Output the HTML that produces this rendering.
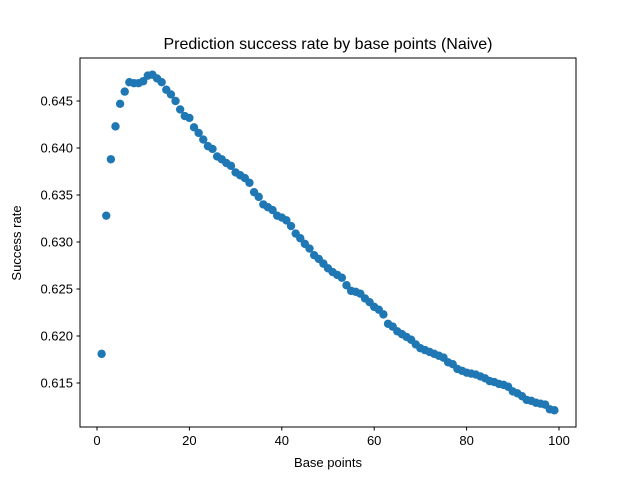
<!DOCTYPE html>
<html><head><meta charset="utf-8"><style>
body{margin:0;background:#fff;}
svg{display:block;font-family:"Liberation Sans","DejaVu Sans",sans-serif;}
</style></head><body>
<svg id="chart" width="640" height="480">
<rect width="640" height="480" fill="#fff"/>
<text x="328" y="49" font-size="16" text-anchor="middle">Prediction success rate by base points (Naive)</text>
<g id="ticks"></g>
<g id="points"></g>
<rect x="80" y="58" width="496" height="369" fill="none" stroke="#000" stroke-width="1"/>
<text x="328" y="467" font-size="13" text-anchor="middle">Base points</text>
<text x="21" y="243" font-size="13" text-anchor="middle" transform="rotate(-90 21 243)">Success rate</text>
</svg>
<script>
const basePoints = Array.from({length:99},(_,i)=>i+1);
const successRate = [0.6181,0.6328,0.6388,0.6423,0.6447,0.6460,0.6470,0.6469,0.6469,0.6471,
0.6477,0.6478,0.6474,0.6470,0.6462,0.6457,0.6450,0.6441,0.6434,0.6432,
0.6422,0.6416,0.6409,0.6402,0.6399,0.6391,0.6388,0.6384,0.6381,0.6374,
0.6371,0.6368,0.6363,0.6353,0.6348,0.6340,0.6337,0.6334,0.6328,0.6326,
0.6323,0.6317,0.6309,0.6304,0.6298,0.6293,0.6286,0.6282,0.6277,0.6272,
0.6268,0.6265,0.6262,0.6254,0.6248,0.6247,0.6245,0.6240,0.6236,0.6231,
0.6228,0.6223,0.6213,0.6210,0.6205,0.6202,0.6199,0.6196,0.6191,0.6187,
0.6185,0.6183,0.6181,0.6179,0.6177,0.6172,0.6170,0.6165,0.6163,0.6161,
0.6160,0.6159,0.6157,0.6155,0.6152,0.6151,0.6149,0.6148,0.6146,0.6141,
0.6139,0.6136,0.6132,0.6131,0.6129,0.6128,0.6127,0.6122,0.6121];
const xTicks = [0,20,40,60,80,100];
const yTicks = [0.615,0.620,0.625,0.630,0.635,0.640,0.645];
const yTickLabels = ["0.615","0.620","0.625","0.630","0.635","0.640","0.645"];

const NS="http://www.w3.org/2000/svg";
function xScale(v){return 97+v*4.62;}
function yScale(v){return 101+(0.645-v)/0.005*47;}
const tg=document.getElementById('ticks');
xTicks.forEach(t=>{
  const x=xScale(t);
  const l=document.createElementNS(NS,'line');
  l.setAttribute('x1',x);l.setAttribute('x2',x);l.setAttribute('y1',427);l.setAttribute('y2',430.5);l.setAttribute('stroke','#000');
  
  
  tg.appendChild(l);
  const tx=document.createElementNS(NS,'text');
  tx.setAttribute('x',x);tx.setAttribute('y',445);tx.setAttribute('font-size','13');tx.setAttribute('text-anchor','middle');
  tx.textContent=t;
  
  
  tg.appendChild(tx);
});
yTicks.forEach((t,i)=>{
  const y=yScale(t);
  const l=document.createElementNS(NS,'line');
  l.setAttribute('x1',76.5);l.setAttribute('x2',80);l.setAttribute('y1',y);l.setAttribute('y2',y);l.setAttribute('stroke','#000');
  
  
  tg.appendChild(l);
  const tx=document.createElementNS(NS,'text');
  tx.setAttribute('x',73);tx.setAttribute('y',y+4.5);tx.setAttribute('font-size','13');tx.setAttribute('text-anchor','end');
  tx.textContent=yTickLabels[i];
  
  
  tg.appendChild(tx);
});
const pg=document.getElementById('points');
basePoints.forEach((b,i)=>{
  const c=document.createElementNS(NS,'circle');
  c.setAttribute('cx',xScale(b));c.setAttribute('cy',yScale(successRate[i]));c.setAttribute('r',4.2);c.setAttribute('fill','#1f77b4');
  
  
  pg.appendChild(c);
});
</script>
</body></html>
